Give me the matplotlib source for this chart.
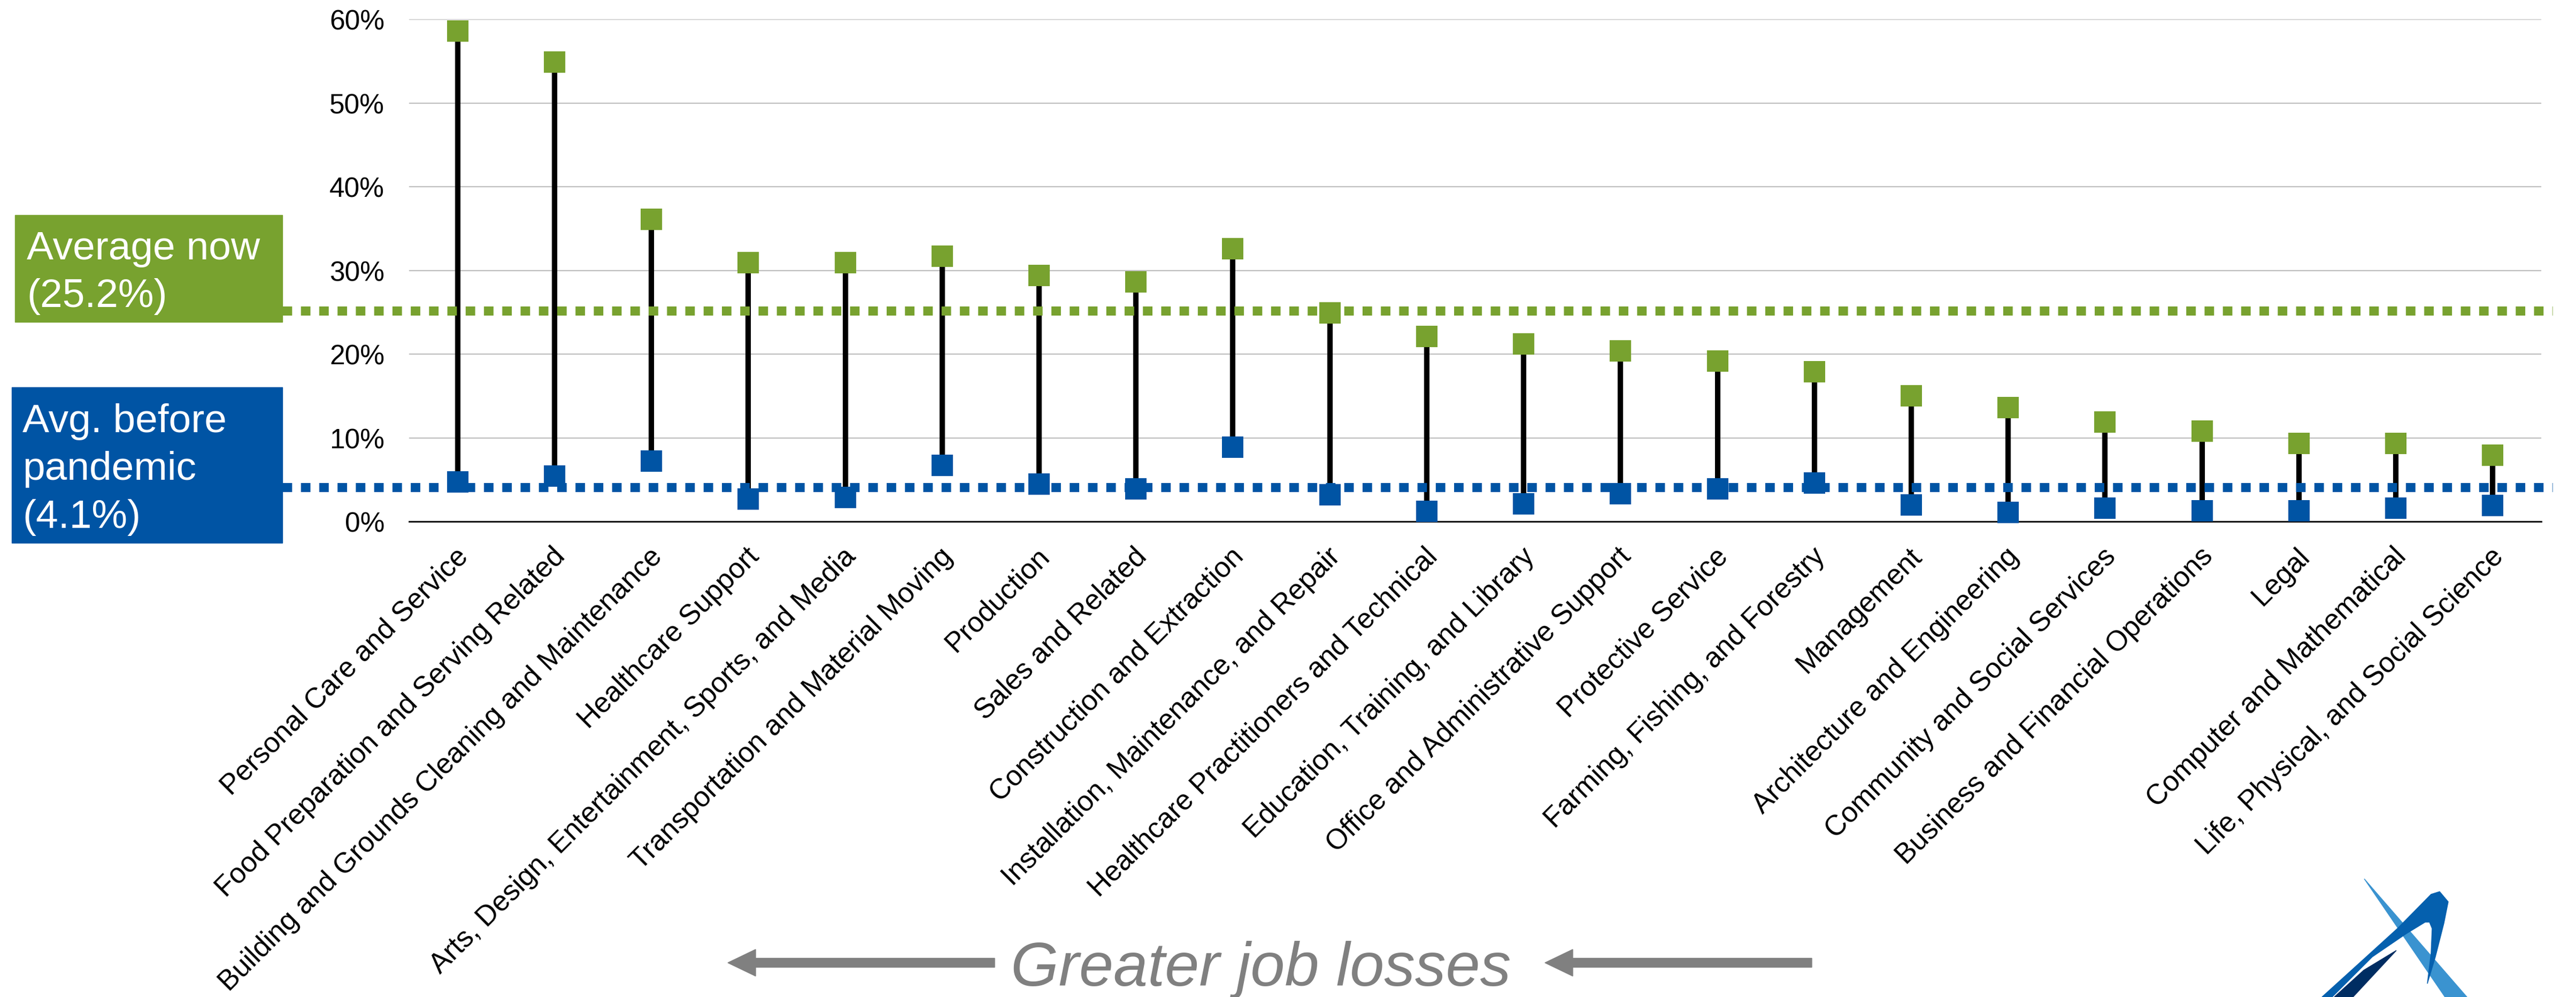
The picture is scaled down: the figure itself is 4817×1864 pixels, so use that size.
import numpy as np
import matplotlib
matplotlib.use("Agg")
import matplotlib.pyplot as plt
from matplotlib.patches import Rectangle, FancyArrow, Polygon
from matplotlib.transforms import ScaledTranslation

plt.rcParams['font.family'] = ['Liberation Sans', 'DejaVu Sans']

occupations = [
    "Personal Care and Service",
    "Food Preparation and Serving Related",
    "Building and Grounds Cleaning and Maintenance",
    "Healthcare Support",
    "Arts, Design, Entertainment, Sports, and Media",
    "Transportation and Material Moving",
    "Production",
    "Sales and Related",
    "Construction and Extraction",
    "Installation, Maintenance, and Repair",
    "Healthcare Practitioners and Technical",
    "Education, Training, and Library",
    "Office and Administrative Support",
    "Protective Service",
    "Farming, Fishing, and Forestry",
    "Management",
    "Architecture and Engineering",
    "Community and Social Services",
    "Business and Financial Operations",
    "Legal",
    "Computer and Mathematical",
    "Life, Physical, and Social Science",
]
# unemployment rate (%), now and before the pandemic
rate_now = [58.6, 54.9, 36.1, 30.9, 30.9, 31.7, 29.4, 28.6, 32.6, 24.9, 22.1,
            21.2, 20.4, 19.2, 17.9, 15.0, 13.6, 11.9, 10.8, 9.3, 9.3, 7.9]
rate_before = [4.7, 5.4, 7.2, 2.7, 2.9, 6.7, 4.5, 3.9, 8.9, 3.2, 1.2,
               2.1, 3.3, 3.9, 4.6, 2.0, 1.1, 1.6, 1.3, 1.3, 1.6, 1.9]
avg_now = 25.2
avg_before = 4.1
yticks = [0, 10, 20, 30, 40, 50, 60]

green = '#78A22F'
blue = '#0054A4'
gray = '#808080'

W, H = 4817, 1865
fig = plt.figure(figsize=(W / 100, H / 100), dpi=100)
ax = fig.add_axes([765 / W, 1 - 976 / H, (4752 - 765) / W, (976 - 37) / H])

x = np.arange(len(occupations))
now = np.array(rate_now)
before = np.array(rate_before)

# gridlines
ax.set_ylim(0, 60)
ax.set_xlim(-0.5, len(occupations) - 0.5)
ax.set_yticks(yticks)
ax.set_yticklabels([f"{t}%" for t in yticks], fontsize=37)
ax.yaxis.grid(True, color='#BFBFBF', lw=1.6)
ax.set_axisbelow(True)
for s in ['top', 'right', 'left']:
    ax.spines[s].set_visible(False)
ax.spines['bottom'].set_color('black')
ax.spines['bottom'].set_linewidth(2)
ax.tick_params(axis='y', length=0, pad=33)
ax.tick_params(axis='x', length=0, pad=48)

ax.set_xticks(x)
ax.set_xticklabels(occupations, rotation=45, ha='right', va='baseline',
                   rotation_mode='anchor', fontsize=38)
shift = ScaledTranslation(22 / 100, 0, fig.dpi_scale_trans)
for lab in ax.get_xticklabels():
    lab.set_transform(lab.get_transform() + shift)

# stems between the two rates
ax.vlines(x, before, now, color='black', lw=7.3, zorder=3)

# average lines (dotted), run out past the axes to the label boxes
trans = ax.get_yaxis_transform()
x0 = (528 - 765) / (4752 - 765)
x1 = (4773 - 765) / (4752 - 765)
ax.plot([x0, x1], [avg_now, avg_now], transform=trans, color=green, lw=12.2,
        dashes=(1.05, 0.97), dash_capstyle='butt', clip_on=False, zorder=4)
ax.plot([x0, x1], [avg_before, avg_before], transform=trans, color=blue,
        lw=12.2, dashes=(1.05, 0.97), dash_capstyle='butt', clip_on=False,
        zorder=4)

ax.plot(x, now, 's', color=green, ms=28.8, mew=0, clip_on=False, zorder=5)
ax.plot(x, before, 's', color=blue, ms=28.8, mew=0, clip_on=False, zorder=5)

# label boxes on the left
def px(xp, yp):
    return xp / W, 1 - yp / H

fig.patches.append(Rectangle(px(28, 603), 500 / W, 200 / H, color=green,
                             transform=fig.transFigure, figure=fig))
fig.patches.append(Rectangle(px(22, 1016), 506 / W, 291 / H, color=blue,
                             transform=fig.transFigure, figure=fig))
for txt, yb in [("Average now", 485), ("(25.2%)", 574)]:
    fig.text(*px(50, yb), txt, color='white', fontsize=54, va='baseline')
for txt, yb in [("Avg. before", 808), ("pandemic", 897), ("(4.1%)", 987)]:
    fig.text(*px(42, yb), txt, color='white', fontsize=54, va='baseline')

# direction hint at the bottom
for tail, tip in [(1860, 1361), (3388, 2889)]:
    fig.patches.append(FancyArrow(tail / W, 1 - 1801 / H, (tip - tail) / W, 0,
                                  width=17 / H, head_width=50 / H,
                                  head_length=52 / W, length_includes_head=True,
                                  color=gray, transform=fig.transFigure,
                                  figure=fig))
fig.text(*px(2358, 1843), "Greater job losses", color=gray, fontsize=83,
         style='italic', ha='center', va='baseline')

# logo corner
logo = [
    ('#3A93D0', [(4421, 1644), (4613, 1865), (4572, 1865)]),
    ('#0560AE', [(4342, 1865), (4417, 1797), (4483, 1737), (4546, 1673),
                 (4562, 1668), (4578, 1687), (4570, 1727), (4554, 1790),
                 (4539, 1840), (4546, 1783), (4548, 1737), (4543, 1725),
                 (4535, 1725), (4499, 1747), (4436, 1790), (4361, 1865)]),
    ('#002D62', [(4365, 1865), (4420, 1815), (4481, 1778), (4440, 1822),
                 (4400, 1865)]),
]
for col, pts in logo:
    fig.patches.append(Polygon([px(a, b) for a, b in pts], closed=True,
                               color=col, transform=fig.transFigure,
                               figure=fig))

fig.savefig('out.png', dpi=100)
